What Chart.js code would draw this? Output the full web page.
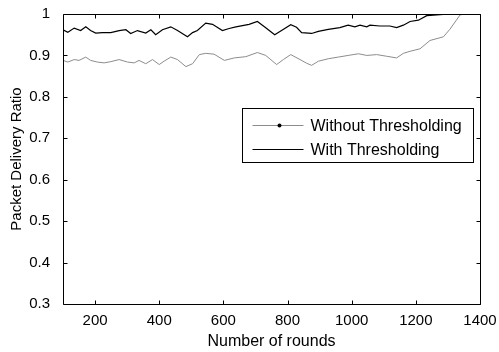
<!DOCTYPE html>
<html>
<head>
<meta charset="utf-8">
<script src="https://cdn.jsdelivr.net/npm/chart.js@4.4.1/dist/chart.umd.min.js"></script>
<style>
  html,body{margin:0;padding:0;background:#fff;}
  canvas{display:block;}
</style>
</head>
<body>
<canvas id="chart" width="499" height="352"></canvas>
<script>
// values
const roundsWithout=[100,115,135,150,171,186,207,228,249,275,301,322,337,358,379,400,415,436,457,483,504,525,545,571,603,634,670,706,732,766,787,810,839,860,875,896,927,958,989,1021,1047,1078,1109,1140,1161,1182,1213,1244,1286,1306,1338,1358,1400];
const ratioWithout=[0.888,0.884,0.890,0.888,0.896,0.888,0.884,0.882,0.885,0.890,0.884,0.882,0.888,0.880,0.890,0.878,0.886,0.896,0.890,0.873,0.880,0.902,0.905,0.903,0.888,0.894,0.897,0.907,0.900,0.878,0.890,0.902,0.890,0.881,0.876,0.886,0.892,0.896,0.900,0.904,0.900,0.902,0.898,0.894,0.905,0.910,0.916,0.936,0.945,0.963,0.998,1.000,1.000];

const roundsWith=[100,115,135,155,171,186,202,223,249,275,296,311,332,358,374,389,410,436,457,488,504,519,545,566,597,618,639,680,706,732,760,785,810,828,844,875,896,927,963,989,1010,1026,1047,1057,1088,1119,1140,1161,1182,1208,1234,1265,1306,1350,1400];
const ratioWith=[0.962,0.956,0.966,0.960,0.969,0.960,0.954,0.955,0.955,0.960,0.962,0.953,0.960,0.954,0.962,0.950,0.962,0.969,0.960,0.945,0.955,0.960,0.978,0.975,0.960,0.965,0.969,0.975,0.982,0.967,0.950,0.962,0.974,0.968,0.955,0.953,0.958,0.963,0.967,0.973,0.969,0.973,0.969,0.973,0.971,0.971,0.967,0.973,0.982,0.985,0.996,0.998,1.000,1.000,1.000];

const seriesNames=['Without Thresholding','With Thresholding'];
const xTicks=[200,400,600,800,1000,1200,1400];
const yTicks=[0.3,0.4,0.5,0.6,0.7,0.8,0.9,1];

const FONT="'Liberation Sans', Arial, Helvetica, sans-serif";

function pairs(xs,ys){
  return xs.map((x,i)=>({x:x,y:ys[i]}));
}

// matlab style box with inward ticks
const boxAxes={
  id:'boxAxes',
  afterDraw(chart){
    const ctx=chart.ctx, a=chart.chartArea;
    const xs=chart.scales.x, ys=chart.scales.y;
    const L=Math.round(a.left)+0.5, R=Math.round(a.right)+0.5;
    const T=Math.round(a.top)+0.5, B=Math.round(a.bottom)+0.5;
    const tl=4;
    ctx.save();
    ctx.strokeStyle='#000';
    ctx.lineWidth=1;
    ctx.beginPath();
    ctx.rect(L,T,R-L,B-T);
    xTicks.forEach(v=>{
      const px=Math.round(xs.getPixelForValue(v))+0.5;
      ctx.moveTo(px,B);ctx.lineTo(px,B-tl);
      ctx.moveTo(px,T);ctx.lineTo(px,T+tl);
    });
    yTicks.forEach(v=>{
      const py=Math.round(ys.getPixelForValue(v))+0.5;
      ctx.moveTo(L,py);ctx.lineTo(L+tl,py);
      ctx.moveTo(R,py);ctx.lineTo(R-tl,py);
    });
    ctx.stroke();

    // legend box
    const bx=Math.round(a.left+179)+0.5, by=Math.round(a.top+94)+0.5;
    const bw=231, bh=54;
    ctx.fillStyle='#fff';
    ctx.fillRect(bx,by,bw,bh);
    ctx.strokeRect(bx,by,bw,bh);
    ctx.font='16px '+FONT;
    ctx.textBaseline='middle';
    ctx.textAlign='left';
    chart.data.datasets.forEach((ds,i)=>{
      const y=Math.round(by+16+i*24)+0.5;
      ctx.strokeStyle=ds.borderColor;
      ctx.lineWidth=ds.borderWidth;
      ctx.beginPath();
      ctx.moveTo(bx+10,y);ctx.lineTo(bx+61,y);
      ctx.stroke();
      if(i===0){
        ctx.fillStyle='#000';
        ctx.beginPath();
        ctx.arc(bx+37,y,2,0,Math.PI*2);
        ctx.fill();
      }
      ctx.fillStyle='#000';
      ctx.fillText(ds.label,bx+68,y+1);
    });
    ctx.restore();
  }
};

new Chart(document.getElementById('chart'),{
  type:'line',
  data:{
    datasets:[
      {label:seriesNames[0],data:pairs(roundsWithout,ratioWithout),borderColor:'#8c8c8c',borderWidth:1,pointRadius:0,tension:0,fill:false},
      {label:seriesNames[1],data:pairs(roundsWith,ratioWith),borderColor:'#000',borderWidth:1.2,pointRadius:0,tension:0,fill:false}
    ]
  },
  options:{
    responsive:false,
    animation:false,
    layout:{padding:{top:13,right:19,left:0,bottom:0}},
    plugins:{legend:{display:false},tooltip:{enabled:false}},
    scales:{
      x:{
        type:'linear',min:100,max:1400,
        afterBuildTicks:s=>{s.ticks=xTicks.map(v=>({value:v}));},
        afterFit:s=>{s.height=48;},
        grid:{display:false},
        border:{display:false},
        ticks:{color:'#000',font:{family:FONT,size:15},padding:0,maxRotation:0,autoSkip:false,callback:v=>String(v)},
        title:{display:true,text:'Number of rounds',color:'#000',font:{family:FONT,size:16},padding:{top:0,bottom:1}}
      },
      y:{
        type:'linear',min:0.3,max:1,
        afterBuildTicks:s=>{s.ticks=yTicks.map(v=>({value:v}));},
        afterFit:s=>{s.width=63;},
        grid:{display:false},
        border:{display:false},
        ticks:{color:'#000',font:{family:FONT,size:15},padding:5,autoSkip:false,callback:v=>v===1?'1':v.toFixed(1)},
        title:{display:true,text:'Packet Delivery Ratio',color:'#000',font:{family:FONT,size:15},padding:{top:8,bottom:0}}
      }
    }
  },
  plugins:[boxAxes]
});
</script>
</body>
</html>
